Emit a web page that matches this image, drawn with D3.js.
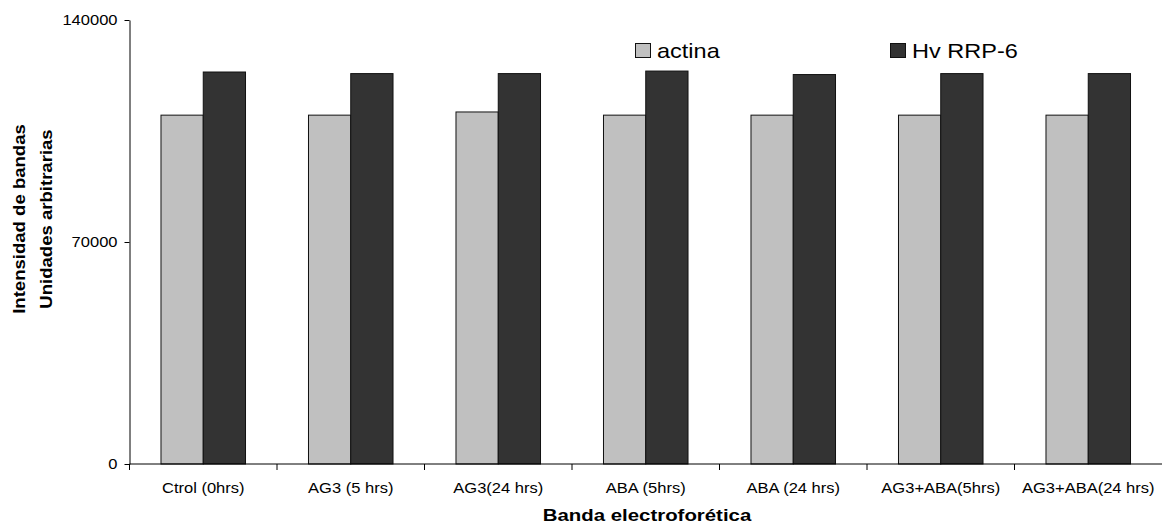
<!DOCTYPE html>
<html>
<head>
<meta charset="utf-8">
<script src="https://cdn.jsdelivr.net/npm/d3@7"></script>
<style>
  body { margin: 0; background: #fff; }
  svg { display: block; font-family: "Liberation Sans", Arial, sans-serif; }
</style>
</head>
<body>
<div id="chart"></div>
<script>
// categories and values
const categories = ["Ctrol (0hrs)", "AG3 (5 hrs)", "AG3(24 hrs)", "ABA (5hrs)", "ABA (24 hrs)", "AG3+ABA(5hrs)", "AG3+ABA(24 hrs)"];
const actina = [110000, 110000, 111000, 110000, 110000, 110000, 110000];
const hvRRP6 = [123600, 123100, 123100, 123900, 122800, 123100, 123100];
const seriesNames = ["actina", "Hv RRP-6"];
const yTicks = [0, 70000, 140000];

const svgWidth = 1163, svgHeight = 525;
const margin = { top: 20, left: 129.5, bottom: 61, right: 1 };
const width = svgWidth - margin.left - margin.right;
const height = svgHeight - margin.top - margin.bottom;

const colors = { "actina": "#c0c0c0", "Hv RRP-6": "#333333" };
// the original text is drawn a bit wide, so glyphs get stretched sideways
const stretch = 1.18;

const svg = d3.select("#chart").append("svg")
  .attr("width", svgWidth)
  .attr("height", svgHeight);

const g = svg.append("g")
  .attr("transform", `translate(${margin.left},${margin.top})`);

const x0 = d3.scaleBand().domain(categories).range([0, width]).padding(0);
const x1 = d3.scaleBand().domain(seriesNames).range([0, x0.bandwidth()])
  .paddingInner(0).paddingOuter(0.745);
const y = d3.scaleLinear().domain([0, 140000]).range([height, 0]);

const rows = categories.map((c, i) => ({
  name: c,
  values: [
    { key: "actina", val: actina[i] },
    { key: "Hv RRP-6", val: hvRRP6[i] }
  ]
}));

// bars
g.selectAll("g.group")
  .data(rows)
  .join("g")
  .attr("class", "group")
  .attr("transform", d => `translate(${x0(d.name)},0)`)
  .selectAll("rect")
  .data(d => d.values)
  .join("rect")
  .attr("x", d => x1(d.key))
  .attr("y", d => y(d.val))
  .attr("width", x1.bandwidth())
  .attr("height", d => height - y(d.val))
  .attr("fill", d => colors[d.key])
  .attr("stroke", "#111")
  .attr("stroke-width", 1);

// y axis (labels drawn by hand so they can be stretched)
const yAxis = g.append("g")
  .call(d3.axisLeft(y).tickValues(yTicks).tickSize(5).tickSizeOuter(0).tickFormat(""));
yAxis.select(".domain").attr("stroke", "#000");
yAxis.selectAll(".tick text").remove();
g.append("g").selectAll("text")
  .data(yTicks)
  .join("text")
  .attr("transform", d => `translate(-12,${y(d)}) scale(${stretch},1)`)
  .attr("dy", "0.35em")
  .attr("text-anchor", "end")
  .attr("font-size", 14)
  .text(d => d3.format("d")(d));

// x axis: ticks sit on the band boundaries
const xAxis = g.append("g")
  .attr("transform", `translate(0,${height})`);
xAxis.append("line")
  .attr("x1", 0).attr("x2", width)
  .attr("stroke", "#000");
xAxis.selectAll("line.tick")
  .data(categories)
  .join("line")
  .attr("class", "tick")
  .attr("x1", d => x0(d)).attr("x2", d => x0(d))
  .attr("y1", 0).attr("y2", 6)
  .attr("stroke", "#000");
xAxis.selectAll("text")
  .data(categories)
  .join("text")
  .attr("transform", d => `translate(${x0(d) + x0.bandwidth() / 2},29) scale(${stretch},1)`)
  .attr("text-anchor", "middle")
  .attr("font-size", 14)
  .text(d => d);

// axis titles
svg.append("text")
  .attr("transform", "translate(647,521) scale(1.2,1)")
  .attr("text-anchor", "middle")
  .attr("font-size", 17)
  .attr("font-weight", "bold")
  .text("Banda electroforética");

const yTitle = svg.append("text")
  .attr("transform", "translate(0,219) rotate(-90) scale(1.16,1)")
  .attr("text-anchor", "middle")
  .attr("font-size", 16)
  .attr("font-weight", "bold");
yTitle.append("tspan").attr("x", 0).attr("y", 25).text("Intensidad de bandas");
yTitle.append("tspan").attr("x", 0).attr("y", 52.5).text("Unidades arbitrarias");

// legend
const legendX = [635, 890];
const legend = svg.selectAll("g.legend")
  .data(seriesNames)
  .join("g")
  .attr("class", "legend")
  .attr("transform", (d, i) => `translate(${legendX[i]},43)`);
legend.append("rect")
  .attr("x", 0.5).attr("y", 0.5)
  .attr("width", 15).attr("height", 14)
  .attr("fill", d => colors[d])
  .attr("stroke", "#111");
legend.append("text")
  .attr("transform", "translate(22,15) scale(1.12,1)")
  .attr("font-size", 21)
  .text(d => d);
</script>
</body>
</html>
